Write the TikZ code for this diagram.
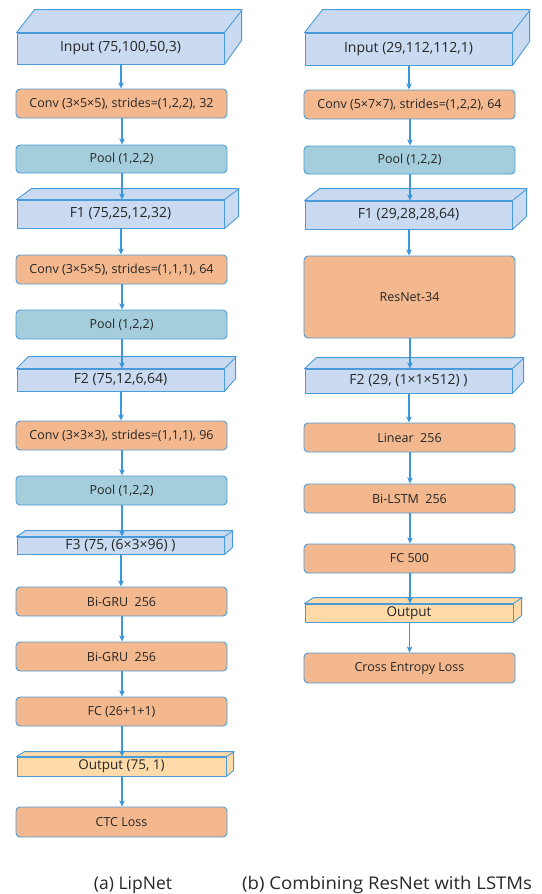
\documentclass[tikz,border=0pt]{standalone}
\usepackage{fontspec}
\setmainfont{Open Sans}
\usetikzlibrary{arrows.meta}
\definecolor{bord}{HTML}{4A9BD9}
\definecolor{arrc}{HTML}{3C96DA}
\definecolor{featc}{HTML}{C9DAF1}
\definecolor{convc}{HTML}{F4B88E}
\definecolor{poolc}{HTML}{A4CEDC}
\definecolor{outc}{HTML}{FDDAA8}
\definecolor{txt}{HTML}{262626}
\tikzset{
  base/.style={draw=bord, line width=0.9pt, inner sep=0pt, text=txt, font=\fontsize{12.5}{14}\selectfont},
  flat/.style={base, rounded corners=4pt, minimum width=211pt},
  conv/.style={flat, fill=convc},
  pool/.style={flat, fill=poolc},
  feat/.style={base, fill=featc, minimum width=207pt, font=\fontsize{14}{16}\selectfont},
  outp/.style={base, fill=outc, minimum width=209pt, font=\fontsize{13.5}{15}\selectfont},
  face/.style={draw=bord, line width=0.9pt, line join=round},
  arr/.style={draw=arrc, line width=1.1pt, -{Stealth[length=6pt,width=5.5pt,inset=1.5pt]}},
  captxt/.style={font=\fontsize{17.5}{20}\selectfont, text=txt, inner sep=0pt}
}
% name, style, cx, ytop, ybottom, text
\newcommand{\flatbox}[6]{\node[#2, minimum height={#5-#4}] (#1) at (#3,{(#4+#5)/2}) {#6};}
\begin{document}
\begin{tikzpicture}[x=1pt,y=-1pt]
\useasboundingbox (0,0) rectangle (541,894);
% ---------- left column ----------
\node[feat, minimum height=31pt] (inL) at (120.5,48.5) {Input (75,100,50,3)};
\filldraw[face, fill=featc] (inL.north west) -- ++(18,-23) -- ++(207,0) -- ++(0,31) -- (inL.south east) -- (inL.north east) -- cycle;
\draw[face] (inL.north east) -- ++(18,-23);
\flatbox{c1L}{conv}{121.5}{89}{118}{Conv (3×5×5), strides=(1,2,2), 32}
\flatbox{p1L}{pool}{121.5}{145}{173}{Pool (1,2,2)}
\node[feat, minimum height=28pt] (f1L) at (120.5,214) {F1 (75,25,12,32)};
\filldraw[face, fill=featc] (f1L.north west) -- ++(15,-11) -- ++(207,0) -- ++(0,28) -- (f1L.south east) -- (f1L.north east) -- cycle;
\draw[face] (f1L.north east) -- ++(15,-11);
\flatbox{c2L}{conv}{121.5}{255}{284}{Conv (3×5×5), strides=(1,1,1), 64}
\flatbox{p2L}{pool}{121.5}{310}{339}{Pool (1,2,2)}
\node[feat, minimum height=22pt] (f2L) at (120.5,380) {F2 (75,12,6,64)};
\filldraw[face, fill=featc] (f2L.north west) -- ++(12,-12) -- ++(207,0) -- ++(0,22) -- (f2L.south east) -- (f2L.north east) -- cycle;
\draw[face] (f2L.north east) -- ++(12,-12);
\flatbox{c3L}{conv}{121.5}{421}{450}{Conv (3×3×3), strides=(1,1,1), 96}
\flatbox{p3L}{pool}{121.5}{476}{505}{Pool (1,2,2)}
\node[feat, minimum height=17pt] (f3L) at (120.5,545.5) {F3 (75, (6×3×96) )};
\filldraw[face, fill=featc] (f3L.north west) -- ++(9,-6) -- ++(207,0) -- ++(0,17) -- (f3L.south east) -- (f3L.north east) -- cycle;
\draw[face] (f3L.north east) -- ++(9,-6);
\flatbox{g1L}{conv}{121.5}{587}{616}{Bi-GRU~~256}
\flatbox{g2L}{conv}{121.5}{642}{671}{Bi-GRU~~256}
\flatbox{fcL}{conv}{121.5}{697}{726}{FC (26+1+1)}
\node[outp, minimum height=19pt] (oL) at (121.5,766.5) {Output (75, 1)};
\filldraw[face, fill=outc] (oL.north west) -- ++(8,-5) -- ++(209,0) -- ++(0,19) -- (oL.south east) -- (oL.north east) -- cycle;
\draw[face] (oL.north east) -- ++(8,-5);
\flatbox{ctcL}{conv}{121.5}{807}{837}{CTC Loss}
% ---------- right column ----------
\node[feat, minimum height=32pt] (inR) at (408.5,49) {Input (29,112,112,1)};
\filldraw[face, fill=featc] (inR.north west) -- ++(18,-23) -- ++(207,0) -- ++(0,32) -- (inR.south east) -- (inR.north east) -- cycle;
\draw[face] (inR.north east) -- ++(18,-23);
\flatbox{c1R}{conv}{409.5}{90}{119}{Conv (5×7×7), strides=(1,2,2), 64}
\flatbox{p1R}{pool}{409.5}{146}{174}{Pool (1,2,2)}
\node[feat, minimum height=28pt] (f1R) at (408.5,215) {F1 (29,28,28,64)};
\filldraw[face, fill=featc] (f1R.north west) -- ++(15,-12) -- ++(207,0) -- ++(0,28) -- (f1R.south east) -- (f1R.north east) -- cycle;
\draw[face] (f1R.north east) -- ++(15,-12);
\flatbox{resR}{conv}{409.5}{256}{338}{ResNet-34}
\node[feat, minimum height=24pt] (f2R) at (408.5,381) {F2 (29, (1×1×512) )};
\filldraw[face, fill=featc] (f2R.north west) -- ++(12,-11) -- ++(207,0) -- ++(0,24) -- (f2R.south east) -- (f2R.north east) -- cycle;
\draw[face] (f2R.north east) -- ++(12,-11);
\flatbox{linR}{conv}{409.5}{423}{452}{Linear~~256}
\flatbox{lstmR}{conv}{409.5}{484}{513}{Bi-LSTM~~256}
\flatbox{fcR}{conv}{409.5}{544}{573}{FC 500}
\node[outp, minimum height=18pt, minimum width=208pt] (oR) at (409,613) {Output};
\filldraw[face, fill=outc] (oR.north west) -- ++(9,-6) -- ++(208,0) -- ++(0,18) -- (oR.south east) -- (oR.north east) -- cycle;
\draw[face] (oR.north east) -- ++(9,-6);
\flatbox{ceR}{conv}{409.5}{653}{683}{Cross Entropy Loss}
% ---------- arrows ----------
\foreach \a/\b in {inL/c1L, c1L/p1L, p1L/f1L, f1L/c2L, c2L/p2L, p2L/f2L, f2L/c3L, c3L/p3L, p3L/f3L, f3L/g1L, g1L/g2L, g2L/fcL, fcL/oL, oL/ctcL,
                   inR/c1R, c1R/p1R, p1R/f1R, f1R/resR, resR/f2R, f2R/linR, linR/lstmR, lstmR/fcR, fcR/oR, oR/ceR}
  \draw[arr] (\a.south) ++(0.5,0) coordinate (s) (s) -- (s |- \b.north);
% ---------- captions ----------
\node[captxt, anchor=base] (capA) at (133,889) {(a) LipNet};
\node[captxt, anchor=base west] (capB) at (242,889) {\scalebox{1.06}[1]{(b) Combining ResNet with LSTMs}};
\end{tikzpicture}
\end{document}
